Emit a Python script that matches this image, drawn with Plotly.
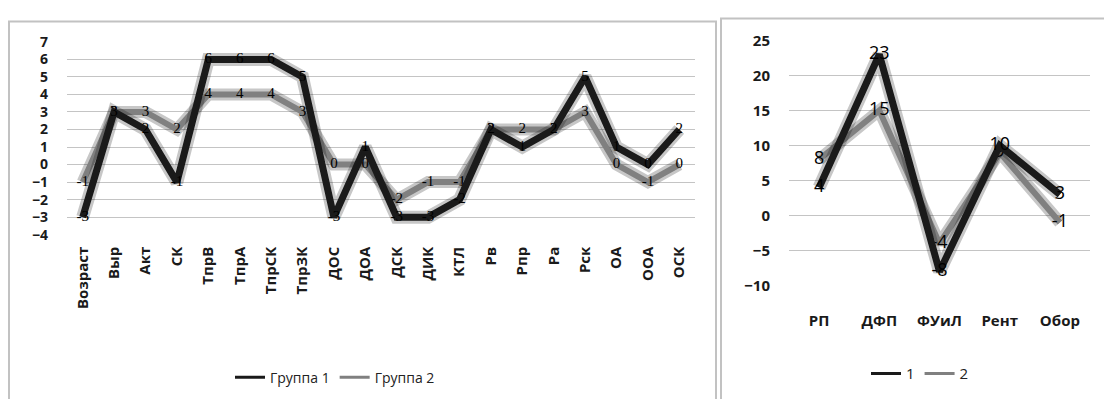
import plotly.graph_objects as go

W, H = 1104, 399

categories_left = ["Возраст", "Выр", "Акт", "СК", "ТпрВ", "ТпрА", "ТпрСК", "ТпрЗК", "ДОС", "ДОА",
                   "ДСК", "ДИК", "КТЛ", "Рв", "Рпр", "Ра", "Рск", "ОА", "ООА", "ОСК"]
group1 = [-3, 3, 2, -1, 6, 6, 6, 5, -3, 1, -3, -3, -2, 2, 1, 2, 5, 1, 0, 2]
group2 = [-1, 3, 3, 2, 4, 4, 4, 3, 0, 0, -2, -1, -1, 2, 2, 2, 3, 0, -1, 0]

categories_right = ["РП", "ДФП", "ФУиЛ", "Рент", "Обор"]
series1 = [4, 23, -8, 10, 3]
series2 = [8, 15, -4, 9, -1]

DARK = "#1a1a1a"
GRAY = "#808080"

def px(x):
    return x / W

def py(y):
    return (H - y) / H

fig = go.Figure()

def add_series(x, y, name, color, width, xa, ya, font):
    # soft shadow
    fig.add_trace(go.Scatter(x=x, y=y, mode="lines", line=dict(color="rgba(0,0,0,0.22)", width=width + 6),
                             xaxis=xa, yaxis=ya, showlegend=False, hoverinfo="skip"))
    fig.add_trace(go.Scatter(x=x, y=y, mode="lines+text", name=name, line=dict(color=color, width=width),
                             text=[str(v) for v in y], textposition="middle center", textfont=font,
                             xaxis=xa, yaxis=ya, showlegend=False, hoverinfo="skip"))

def add_legend_item(name, color, xa, ya, legend):
    fig.add_trace(go.Scatter(x=[None], y=[None], mode="lines", name=name, line=dict(color=color, width=3),
                             xaxis=xa, yaxis=ya, legend=legend, showlegend=True))

font_left = dict(family="Liberation Serif, Times New Roman, serif", size=15, color="#000000")
font_right = dict(family="Open Sans, Liberation Sans, sans-serif", size=18, color="#000000")

add_series(categories_left, group2, "Группа 2", GRAY, 6, "x", "y", font_left)
add_series(categories_left, group1, "Группа 1", DARK, 7, "x", "y", font_left)
add_series(categories_right, series2, "2", GRAY, 6, "x2", "y2", font_right)
add_series(categories_right, series1, "1", DARK, 7, "x2", "y2", font_right)

add_legend_item("Группа 1", DARK, "x", "y", "legend")
add_legend_item("Группа 2", GRAY, "x", "y", "legend")
add_legend_item("1", DARK, "x2", "y2", "legend2")
add_legend_item("2", GRAY, "x2", "y2", "legend2")

tickfont = dict(family="Open Sans, DejaVu Sans, sans-serif", size=15, color="#1a1a1a", weight="bold")
ytickfont_left = dict(family="Open Sans, DejaVu Sans, sans-serif", size=14, color="#1a1a1a", weight="bold")

fig.update_layout(
    width=W, height=H, margin=dict(l=0, r=0, t=0, b=0),
    paper_bgcolor="white", plot_bgcolor="white",
    xaxis=dict(domain=[px(67), px(695)], type="category", categoryorder="array",
               categoryarray=categories_left, range=[-0.5, 19.5], tickangle=-90,
               tickfont=tickfont, showgrid=False, showline=False, ticks="", ticklabelstandoff=8,
               anchor="y", fixedrange=True),
    yaxis=dict(domain=[py(235.5), py(32.5)], range=[-4, 7], dtick=1, tickfont=ytickfont_left,
               showgrid=True, gridcolor="#c4c4c4", gridwidth=1, zeroline=False, showline=False,
               ticks="", ticklabelstandoff=18, anchor="x"),
    xaxis2=dict(domain=[px(789), px(1090)], type="category", categoryorder="array",
                categoryarray=categories_right, range=[-0.5, 4.5], tickangle=0,
                tickfont=tickfont, showgrid=False, showline=False, ticks="", ticklabelstandoff=24,
                anchor="y2"),
    yaxis2=dict(domain=[py(289), py(31)], range=[-10, 25], dtick=5, tickfont=tickfont,
                showgrid=True, gridcolor="#c4c4c4", gridwidth=1, zeroline=False, showline=False,
                ticks="", ticklabelstandoff=18, anchor="x2"),
    legend=dict(orientation="h", x=px(335), xanchor="center", y=py(386), yanchor="middle",
                font=dict(family="Liberation Sans Narrow, Open Sans, sans-serif", size=14, color="#222"),
                itemwidth=30, bgcolor="rgba(0,0,0,0)"),
    legend2=dict(orientation="h", x=px(920), xanchor="center", y=py(382), yanchor="middle",
                 font=dict(family="Open Sans, sans-serif", size=15, color="#222"),
                 itemwidth=30, bgcolor="rgba(0,0,0,0)"),
    shapes=[
        dict(type="rect", xref="paper", yref="paper", x0=px(9), x1=px(716), y0=-0.1, y1=py(11),
             line=dict(color="#c2c2c2", width=2)),
        dict(type="rect", xref="paper", yref="paper", x0=px(721), x1=1.1, y0=-0.1, y1=py(8),
             line=dict(color="#c2c2c2", width=2)),
    ],
)

fig.write_html("out.html")
